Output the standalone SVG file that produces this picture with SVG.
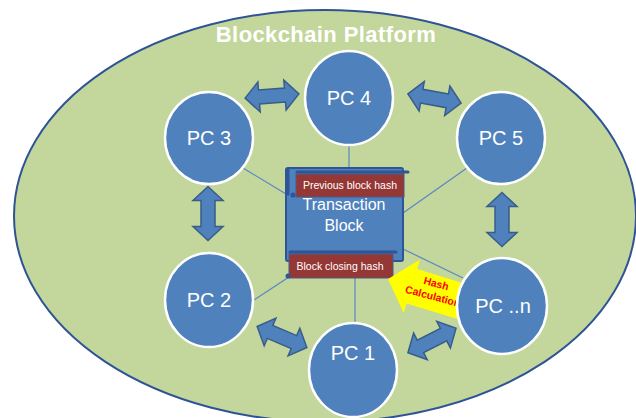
<svg xmlns="http://www.w3.org/2000/svg" width="636" height="418" viewBox="0 0 636 418">
<defs>
<style>
.pc{fill:#4f81bd;stroke:#ffffff;stroke-width:2.5}
.pct{font-family:"Liberation Sans",Arial,sans-serif;font-size:20px;fill:#ffffff;text-anchor:middle}
.link{stroke:#5b87c5;stroke-width:1.2;fill:none}
.dbl{fill:#4f81bd;stroke:#385d8a;stroke-width:1.5;stroke-linejoin:miter}
.red{fill:#953735;stroke:#4a5d88;stroke-width:1}
.redt{font-family:"Liberation Sans",Arial,sans-serif;font-size:10.5px;fill:#ffffff;text-anchor:middle}
.roll{stroke:#2f5597;stroke-width:3;stroke-linecap:round;fill:none}
</style>
<path id="dblarrow" d="M -27 0 L -13 -15 L -13 -7 L 13 -7 L 13 -15 L 27 0 L 13 15 L 13 7 L -13 7 L -13 15 Z"/>
</defs>
<rect x="0" y="0" width="636" height="418" fill="#ffffff"/>
<g id="platform">
<ellipse cx="325" cy="216" rx="311" ry="206" fill="#c3d69b" stroke="#2f5496" stroke-width="2"/>
<text x="326" y="42" font-family="'Liberation Sans',Arial,sans-serif" font-size="22" font-weight="bold" fill="#ffffff" text-anchor="middle" letter-spacing="0.4">Blockchain Platform</text>
</g>
<g id="connectors">
<line class="link" x1="349" y1="145" x2="349" y2="168"/>
<line class="link" x1="243" y1="168" x2="286" y2="194"/>
<line class="link" x1="467" y1="168" x2="403" y2="213"/>
<line class="link" x1="403" y1="249" x2="463" y2="278"/>
<line class="link" x1="254" y1="300" x2="289" y2="277"/>
<line class="link" x1="355" y1="278" x2="355" y2="323"/>
<use href="#dblarrow" class="dbl" transform="translate(272,96) rotate(-4.5)"/>
<use href="#dblarrow" class="dbl" transform="translate(434.5,98.5) rotate(10)"/>
<use href="#dblarrow" class="dbl" transform="translate(208,213.5) rotate(90)"/>
<use href="#dblarrow" class="dbl" transform="translate(502,219.5) rotate(90)"/>
<use href="#dblarrow" class="dbl" transform="translate(282,337) rotate(23)"/>
<use href="#dblarrow" class="dbl" transform="translate(432,340.5) rotate(-27)"/>
</g>
<g id="transaction-block">
<rect x="286" y="168" width="117" height="93" rx="2" fill="#4f81bd" stroke="#2f5597" stroke-width="2"/>
<line class="roll" x1="288" y1="170" x2="288" y2="194"/>
<text x="344" y="210" font-family="'Liberation Sans',Arial,sans-serif" font-size="16" fill="#ffffff" text-anchor="middle">Transaction</text>
<text x="344" y="231" font-family="'Liberation Sans',Arial,sans-serif" font-size="16" fill="#ffffff" text-anchor="middle">Block</text>
</g>
<g id="previous-hash">
<rect class="red" x="296" y="174" width="108" height="23"/>
<line class="roll" x1="297" y1="172" x2="408" y2="172"/>
<circle cx="293" cy="195" r="2.5" fill="#2f5597"/>
<text class="redt" x="350" y="189">Previous block hash</text>
</g>
<g id="closing-hash">
<rect class="red" x="289" y="254" width="104" height="24"/>
<line class="roll" x1="290" y1="252" x2="396" y2="252"/>
<circle cx="288" cy="276" r="2.5" fill="#2f5597"/>
<text class="redt" x="340" y="270">Block closing hash</text>
</g>
<g id="hash-calculation">
<path d="M 0 0 L 25 -28 L 25 -18 L 92 -18 L 92 18 L 25 18 L 25 28 Z" fill="#ffff00" transform="translate(388,279) rotate(17)"/>
<g transform="translate(434,292) rotate(15)" font-family="'Liberation Sans',Arial,sans-serif" font-size="10.5" font-weight="bold" fill="#ff0000" text-anchor="middle">
<text x="0" y="-5">Hash</text>
<text x="0" y="8">Calculation</text>
</g>
</g>
<g id="pc4"><ellipse class="pc" cx="349" cy="98" rx="44" ry="47"/><text class="pct" x="349" y="105">PC 4</text></g>
<g id="pc3"><ellipse class="pc" cx="209" cy="138" rx="44" ry="46"/><text class="pct" x="209" y="145">PC 3</text></g>
<g id="pc5"><ellipse class="pc" cx="501" cy="138" rx="44" ry="46"/><text class="pct" x="501" y="145">PC 5</text></g>
<g id="pc2"><ellipse class="pc" cx="209" cy="300" rx="44" ry="47"/><text class="pct" x="209" y="307">PC 2</text></g>
<g id="pc1"><ellipse class="pc" cx="353" cy="370" rx="44" ry="47"/><text class="pct" x="353" y="360">PC 1</text></g>
<g id="pcn"><ellipse class="pc" cx="502" cy="306" rx="45" ry="48"/><text class="pct" x="503" y="313">PC ..n</text></g>
</svg>
